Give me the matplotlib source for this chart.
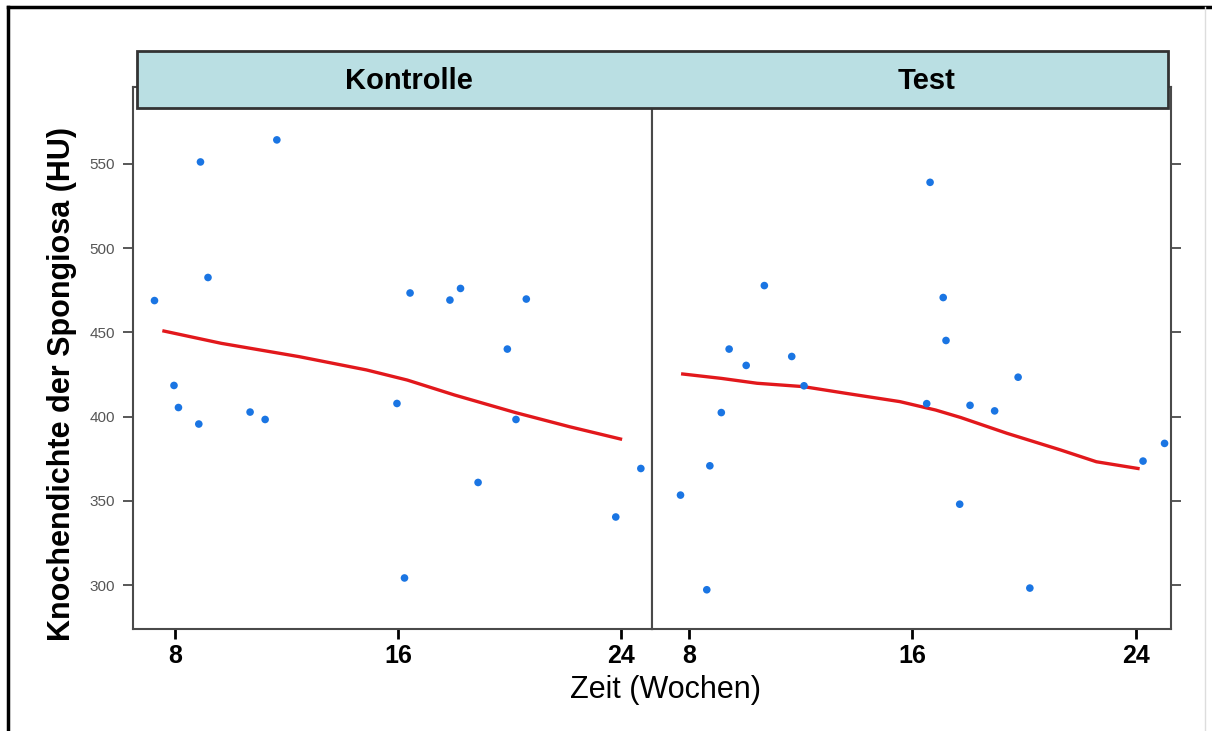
import matplotlib
matplotlib.use("Agg")
import matplotlib.pyplot as plt
from matplotlib.patches import Rectangle
from matplotlib.lines import Line2D

plt.rcParams['font.family'] = ['Liberation Sans', 'DejaVu Sans']

# Kontrolle: weeks and bone density (HU)
kontrolle_zeit = [7.26, 7.96, 8.12, 8.85, 8.91, 9.18, 10.69, 11.23, 11.65, 15.96,
                  16.23, 16.43, 17.86, 18.24, 18.87, 19.92, 20.23, 20.60, 23.81, 24.71]
kontrolle_hu = [468.9, 418.5, 405.4, 395.6, 551.2, 482.6, 402.7, 398.3, 564.3, 407.8,
                304.2, 473.4, 469.2, 476.1, 360.9, 440.1, 398.3, 469.8, 340.4, 369.2]

# Test
test_zeit = [7.70, 8.75, 8.64, 9.16, 9.44, 10.05, 10.70, 11.68, 12.12, 16.51,
             16.63, 17.10, 17.20, 17.69, 18.06, 18.94, 19.78, 20.20, 24.25, 25.02]
test_hu = [353.4, 370.8, 297.2, 402.4, 440.1, 430.4, 477.8, 435.7, 418.3, 407.7,
           539.1, 470.7, 445.2, 348.0, 406.7, 403.4, 423.4, 298.2, 373.6, 384.1]

# smoothed curves
kontrolle_fit_x = [7.60, 9.66, 12.45, 14.87, 16.33, 18.03, 20.21, 22.15, 23.98]
kontrolle_fit_y = [450.8, 443.5, 435.6, 427.7, 421.7, 412.8, 402.4, 394.0, 386.7]
test_fit_x = [7.78, 9.16, 10.44, 12.10, 13.63, 15.55, 16.83, 17.72, 19.38, 21.30, 22.58, 24.07]
test_fit_y = [425.3, 422.7, 419.8, 417.8, 413.8, 408.9, 403.9, 399.5, 390.1, 380.2, 373.2, 369.2]

panels = ["Kontrolle", "Test"]
x_ticks = [8, 16, 24]
y_ticks = [300, 350, 400, 450, 500, 550]

W, H = 1212, 731
fig = plt.figure(figsize=(W / 100, H / 100), dpi=100)

def fx(px):
    return px / W

def fy(py):
    return 1 - py / H

top, bottom = 87, 629
ax1 = fig.add_axes([fx(133.3), fy(bottom), fx(652 - 133.3), (bottom - top) / H])
ax2 = fig.add_axes([fx(652), fy(bottom), fx(1170.7 - 652), (bottom - top) / H])

blue = "#1a75e3"
red = "#e2181c"
frame = "#4a4a4a"

for ax, xs, ys, fxs, fys, xl in [
        (ax1, kontrolle_zeit, kontrolle_hu, kontrolle_fit_x, kontrolle_fit_y, (6.50, 25.11)),
        (ax2, test_zeit, test_hu, test_fit_x, test_fit_y, (6.68, 25.24))]:
    ax.scatter(xs, ys, s=30, color=blue, edgecolors="none", zorder=3)
    ax.plot(fxs, fys, color=red, lw=2.4, zorder=2)
    ax.set_xlim(*xl)
    ax.set_ylim(273.9, 595.7)
    ax.set_xticks(x_ticks)
    ax.set_xticklabels([str(t) for t in x_ticks], fontsize=18, fontweight="bold")
    ax.set_yticks(y_ticks)
    ax.tick_params(axis="x", direction="out", length=7, width=2, color="black", pad=4)
    ax.tick_params(axis="y", direction="out", length=7, width=1.3, color=frame,
                   labelsize=11, labelcolor="#555555", pad=6)
    for s in ax.spines.values():
        s.set_color(frame)
        s.set_linewidth(1.5)

ax2.yaxis.tick_right()
ax2.set_yticklabels([])
ax1.yaxis.tick_left()

# strip on top of both panels
strip = Rectangle((fx(136.7), fy(108.3)), fx(1168.3 - 136.7), (108.3 - 50.7) / H,
                  transform=fig.transFigure, facecolor="#badfe3", edgecolor="#333333",
                  lw=2, zorder=10)
fig.patches.append(strip)
fig.text(fx(409), fy(81), panels[0], fontsize=21, fontweight="bold", ha="center", va="center", zorder=11)
fig.text(fx(927), fy(81), panels[1], fontsize=21, fontweight="bold", ha="center", va="center", zorder=11)

fig.text(fx(666), fy(690), "Zeit (Wochen)", fontsize=22, ha="center", va="center")
fig.text(fx(62), fy(384), "Knochendichte der Spongiosa (HU)", fontsize=22, fontweight="bold",
         rotation=90, ha="center", va="center")

# outer border
fig.lines.append(Line2D([fx(8), fx(W)], [fy(7), fy(7)], transform=fig.transFigure, color="black", lw=2.5))
fig.lines.append(Line2D([fx(8), fx(8)], [fy(7), 0], transform=fig.transFigure, color="black", lw=2.5))
fig.lines.append(Line2D([fx(1205), fx(1205)], [fy(7), 0], transform=fig.transFigure, color="#dddddd", lw=1))

fig.savefig("out.png", dpi=100)
